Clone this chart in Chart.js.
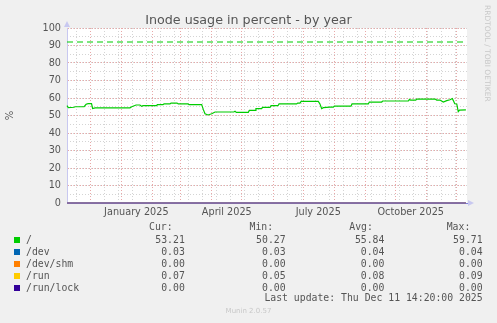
<!DOCTYPE html>
<html>
<head>
<meta charset="utf-8">
<script src="https://cdn.jsdelivr.net/npm/chart.js@4.4.1/dist/chart.umd.min.js"></script>
<style>
  body { margin: 0; background: #f0f0f0; }
  #wrap { position: relative; width: 497px; height: 323px; overflow: hidden; font-family: 'DejaVu Sans', sans-serif; }
  #chartBox { position: absolute; left: 0; top: 0; width: 497px; height: 323px; }
  .txt { position: absolute; white-space: pre; line-height: 1; }
  .mono { font-family: 'DejaVu Sans Mono', monospace; font-size: 9.8px; color: #555; line-height: 9.8px; }
  .sq { position: absolute; width: 6px; height: 6px; }
</style>
</head>
<body>
<div id="wrap">
  <div id="chartBox"><canvas id="inodeChart"></canvas></div>
  <div class="txt" style="left:0;width:497px;text-align:center;top:13.6px;font-size:12.7px;line-height:12.7px;color:#555;">Inode usage in percent - by year</div>
  <div class="txt" style="left:483.7px;top:5px;font-size:7.5px;line-height:7.5px;color:#c8c8c8;writing-mode:vertical-rl;">RRDTOOL / TOBI OETIKER</div>
  <div id="legend"></div>
  <div class="txt" style="left:0;width:497px;text-align:center;top:308.3px;font-size:7px;line-height:7px;color:#c8c8c8;">Munin 2.0.57</div>
</div>

<script>
// time axis in days counted from 1 Jan 2025
const dayMin = -54;
const dayMax = 344;

// "/" usage in percent
const rootDays = [-54, -52.7, -47, -46, -37, -35, -33, -29.6, -28.5, -26, 8.7, 10.4, 14.7, 18.6, 20.3, 21.6,
  35.3, 35.8, 41.5, 42.5, 48.5, 49.5, 55.5, 56.7, 66.4, 67.4, 80, 81.6, 83.3, 86.3, 90, 93.3, 112, 113.2,
  114.5, 126.4, 127.4, 133.1, 134, 139.7, 140.5, 148, 149, 155.9, 157, 174.5, 175.5, 177.8, 179, 196,
  197.7, 199.4, 201, 207.7, 211, 212, 228.6, 229.6, 245.8, 246.8, 259.1, 260.1, 285.6, 286.6, 288, 293,
  294, 312.2, 313.9, 317.1, 320.4, 323.8, 327.1, 329.4, 330.4, 331.8, 333.8, 335.3, 336.6, 342.9];
const rootPct = [55.6, 54.5, 54.7, 55.0, 55.0, 56.4, 56.8, 56.8, 54.0, 54.4, 54.4, 55.0, 56.0, 56.0, 55.2, 55.6,
  55.6, 56.2, 56.2, 56.6, 56.6, 57.1, 57.1, 56.6, 56.6, 56.2, 56.2, 53.5, 51.0, 50.3, 51.0, 52.0, 52.0, 52.4,
  51.8, 51.8, 52.9, 52.9, 53.9, 53.9, 54.6, 54.6, 55.6, 55.6, 56.6, 56.6, 57.1, 57.1, 58.1, 58.1,
  56.6, 53.9, 54.5, 54.8, 54.8, 55.4, 55.4, 56.6, 56.6, 57.7, 57.7, 58.3, 58.3, 59.1, 58.8, 58.8,
  59.4, 59.4, 58.8, 58.8, 57.7, 58.5, 59.0, 59.7, 58.5, 56.7, 56.6, 52.2, 53.1, 53.2];

// small filesystems, all close to zero
const smallDays = [-54, 150, 342.9];
const devPct = [0.04, 0.04, 0.03];
const shmPct = [0, 0, 0];
const runPct = [0.09, 0.08, 0.07];
const lockPct = [0, 0, 0];

// warning level of "/"
const warnDays = [dayMin, dayMax];
const warnPct = [92, 92];

// grid and label positions (days)
const monthStarts = [-31, 0, 31, 59, 90, 120, 151, 181, 212, 243, 273, 304, 334];
const biweekly = [-45, -31, -17, -3, 11, 25, 39, 53, 67, 81, 95, 109, 123, 137, 151, 165, 179, 193,
  207, 221, 235, 249, 263, 277, 291, 305, 319, 333];
const labelDays = [15, 105, 196, 288];
const labelTexts = ['January 2025', 'April 2025', 'July 2025', 'October 2025'];

// legend table
const legendNames = ['/', '/dev', '/dev/shm', '/run', '/run/lock'];
const legendColors = ['#00cc00', '#0066b3', '#ff8000', '#ffcc00', '#330099'];
const curVals = ['53.21', '0.03', '0.00', '0.07', '0.00'];
const minVals = ['50.27', '0.03', '0.00', '0.05', '0.00'];
const avgVals = ['55.84', '0.04', '0.00', '0.08', '0.00'];
const maxVals = ['59.71', '0.04', '0.00', '0.09', '0.00'];
const lastUpdate = 'Last update: Thu Dec 11 14:20:00 2025';

const tickFont = { family: 'DejaVu Sans', size: 9.7 };
const majorGrid = '#e8a8a8';
const minorGrid = '#d4d4d4';
const axisColor = '#c8c8f0';

function pts(days, vals) {
  return days.map((d, i) => ({ x: d, y: vals[i] }));
}

function fixedTicks(list) {
  return function(scale) {
    scale.ticks = list.map(v => ({ value: v }));
  };
}

// white canvas behind the plot
const plotBackground = {
  id: 'plotBackground',
  beforeDraw(chart) {
    const a = chart.chartArea;
    const ctx = chart.ctx;
    ctx.save();
    ctx.fillStyle = '#ffffff';
    ctx.fillRect(a.left, a.top, a.right - a.left, a.bottom - a.top);
    ctx.restore();
  }
};

// little arrows at the ends of the axes, rrdtool style
const axisArrows = {
  id: 'axisArrows',
  beforeDatasetsDraw(chart) {
    const a = chart.chartArea;
    const ctx = chart.ctx;
    ctx.save();
    ctx.fillStyle = axisColor;
    ctx.beginPath();
    ctx.moveTo(a.left - 3, a.top - 1);
    ctx.lineTo(a.left + 3, a.top - 1);
    ctx.lineTo(a.left, a.top - 7);
    ctx.closePath();
    ctx.fill();
    ctx.beginPath();
    ctx.moveTo(a.right + 1, a.bottom - 3);
    ctx.lineTo(a.right + 1, a.bottom + 3);
    ctx.lineTo(a.right + 7, a.bottom);
    ctx.closePath();
    ctx.fill();
    ctx.restore();
  }
};

function buildLegend() {
  const box = document.getElementById('legend');
  const wrapW = 497;
  const rowBase = [243.2, 255.3, 267.2, 279.2, 291.2];
  const asc = 0.846 * 9.8;
  let html = '';
  const headers = [['Cur:', 149], ['Min:', 249.5], ['Avg:', 349.3], ['Max:', 446.7]];
  headers.forEach(h => {
    html += '<div class="txt mono" style="left:' + h[1] + 'px;top:' + (230.3 - asc) + 'px">' + h[0] + '</div>';
  });
  const colEnds = [184.8, 285.6, 384.4, 482.6];
  legendNames.forEach((name, i) => {
    const top = rowBase[i] - asc;
    html += '<div class="sq" style="left:14px;top:' + (rowBase[i] - 6.5) + 'px;background:' + legendColors[i] + '"></div>';
    html += '<div class="txt mono" style="left:26px;top:' + top + 'px">' + name + '</div>';
    [curVals[i], minVals[i], avgVals[i], maxVals[i]].forEach((v, c) => {
      html += '<div class="txt mono" style="right:' + (wrapW - colEnds[c]) + 'px;top:' + top + 'px;text-align:right">' + v + '</div>';
    });
  });
  html += '<div class="txt mono" style="right:' + (wrapW - 482.6) + 'px;top:' + (301.3 - asc) + 'px;text-align:right">' + lastUpdate + '</div>';
  box.innerHTML = html;
}

function lineSet(label, data, color, order, extra) {
  return Object.assign({
    label: label,
    data: data,
    borderColor: color,
    backgroundColor: color,
    borderWidth: 1.2,
    pointRadius: 0,
    tension: 0,
    fill: false,
    clip: false,
    order: order
  }, extra || {});
}

document.addEventListener('DOMContentLoaded', function() {
  buildLegend();

  const ctx = document.getElementById('inodeChart');
  new Chart(ctx, {
    type: 'line',
    data: {
      datasets: [
        lineSet('/', pts(rootDays, rootPct), '#00cc00', 1),
        lineSet('/ warning', pts(warnDays, warnPct), '#00cc00', 2, { borderDash: [6, 4], borderWidth: 1.2 }),
        lineSet('/dev', pts(smallDays, devPct), '#0066b3', 6),
        lineSet('/dev/shm', pts(smallDays, shmPct), '#ff8000', 5),
        lineSet('/run', pts(smallDays, runPct), '#ffcc00', 4),
        lineSet('/run/lock', pts(smallDays, lockPct), '#6a5acd', 3, { borderWidth: 1.5 })
      ]
    },
    options: {
      responsive: true,
      maintainAspectRatio: false,
      animation: false,
      events: [],
      layout: { padding: { top: 28, right: 30, left: 0, bottom: 0 } },
      plugins: {
        legend: { display: false },
        tooltip: { enabled: false },
        title: { display: false }
      },
      scales: {
        xMinor: {
          type: 'linear', position: 'bottom', min: dayMin, max: dayMax,
          afterBuildTicks: fixedTicks(biweekly),
          afterFit: s => { s.height = 0; },
          ticks: { display: false },
          grid: { color: minorGrid, lineWidth: 1, drawTicks: false },
          border: { display: false, dash: [1, 2] }
        },
        yMinor: {
          type: 'linear', position: 'left', min: 0, max: 100,
          ticks: { display: false, stepSize: 5 },
          afterFit: s => { s.width = 0; },
          grid: { color: c => (c.tick && c.tick.value === 0 ? 'rgba(0,0,0,0)' : minorGrid), lineWidth: 1, drawTicks: false },
          border: { display: false, dash: [1, 2] }
        },
        xMajor: {
          type: 'linear', position: 'bottom', min: dayMin, max: dayMax,
          afterBuildTicks: fixedTicks(monthStarts),
          afterFit: s => { s.height = 0; },
          ticks: { display: false },
          grid: { color: majorGrid, lineWidth: 1, drawTicks: false },
          border: { display: false, dash: [1, 2] }
        },
        x: {
          type: 'linear', position: 'bottom', min: dayMin, max: dayMax,
          afterBuildTicks: fixedTicks(labelDays),
          afterFit: s => { s.height = 120; },
          ticks: {
            font: tickFont, color: '#555', padding: 4, maxRotation: 0, autoSkip: false,
            callback: function(value) {
              const i = labelDays.indexOf(value);
              return i >= 0 ? labelTexts[i] : '';
            }
          },
          grid: { display: false, drawTicks: false },
          border: { display: true, color: '#8080e0', width: 1 }
        },
        y: {
          type: 'linear', position: 'left', min: 0, max: 100,
          afterFit: s => { s.width = 67; },
          ticks: { stepSize: 10, font: tickFont, color: '#555', padding: 6 },
          title: { display: true, text: '%', font: { family: 'DejaVu Sans', size: 10 }, color: '#555', padding: { top: 4, bottom: 0 } },
          grid: { color: c => (c.tick && c.tick.value === 0 ? 'rgba(0,0,0,0)' : majorGrid), lineWidth: 1, drawTicks: false },
          border: { display: true, color: axisColor, width: 1, dash: [1, 2] }
        }
      }
    },
    plugins: [plotBackground, axisArrows]
  });
});
</script>
</body>
</html>
